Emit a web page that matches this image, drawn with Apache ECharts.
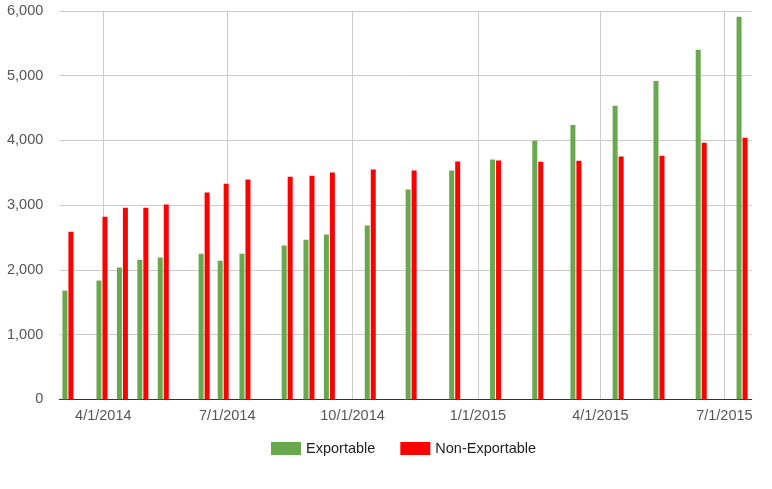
<!DOCTYPE html>
<html>
<head>
<meta charset="utf-8">
<script src="https://cdn.jsdelivr.net/npm/echarts@6/dist/echarts.min.js"></script>
<style>
html,body{margin:0;padding:0;background:#fff;}
#chart{width:772px;height:489px;}
</style>
</head>
<body>
<div id="chart"></div>
<script>
const dates = ['2014-03-06','2014-03-31','2014-04-15','2014-04-30','2014-05-15','2014-06-14','2014-06-28','2014-07-14','2014-08-14','2014-08-30','2014-09-14','2014-10-14','2014-11-13','2014-12-15','2015-01-14','2015-02-14','2015-03-14','2015-04-14','2015-05-14','2015-06-14','2015-07-14'];
const exportable = [1680, 1835, 2035, 2155, 2190, 2250, 2140, 2250, 2375, 2465, 2545, 2685, 3240, 3535, 3705, 3995, 4240, 4535, 4920, 5400, 5910];
const nonExportable = [2590, 2820, 2960, 2960, 3010, 3195, 3330, 3395, 3440, 3455, 3505, 3550, 3535, 3675, 3690, 3670, 3685, 3750, 3765, 3965, 4040];
const tickDates = ['2014-04-01','2014-07-01','2014-10-01','2015-01-01','2015-04-01','2015-07-01'];
const axisStart = '2014-02-27T16:00:00Z';
const axisEnd = '2015-07-21T02:00:00Z';
const yTicks = [0, 1000, 2000, 3000, 4000, 5000, 6000];

const ts = d => Date.parse(d.length === 10 ? d + 'T00:00:00Z' : d);
const tickTs = tickDates.map(ts);
const fmtDate = v => { const d = new Date(v); return (d.getUTCMonth() + 1) + '/' + d.getUTCDate() + '/' + d.getUTCFullYear(); };
const fmtNum = v => v.toLocaleString('en-US');

const font = '"Liberation Sans", Arial, sans-serif';
const chart = echarts.init(document.getElementById('chart'), null, {renderer: 'canvas'});
chart.setOption({
  animation: false,
  backgroundColor: '#ffffff',
  textStyle: {fontFamily: font},
  grid: {left: 59.3, right: 20.3, top: 11, bottom: 89.7, containLabel: false},
  legend: {
    left: 271, top: 441, padding: 0,
    itemWidth: 30, itemHeight: 13, itemGap: 25,
    icon: 'rect',
    textStyle: {fontFamily: font, fontSize: 14.5, color: '#222'},
    data: ['Exportable', 'Non-Exportable']
  },
  xAxis: {
    type: 'value',
    min: ts(axisStart), max: ts(axisEnd),
    axisLine: {show: true, lineStyle: {color: '#333', width: 1}},
    axisTick: {show: false, customValues: tickTs},
    axisLabel: {customValues: tickTs, formatter: v => fmtDate(v), color: '#555', fontSize: 14.5, fontFamily: font, margin: 9},
    splitLine: {show: false}
  },
  yAxis: {
    type: 'value',
    min: yTicks[0], max: yTicks[yTicks.length - 1], interval: 1000,
    axisLine: {show: false},
    axisTick: {show: false},
    axisLabel: {formatter: v => fmtNum(v), color: '#555', fontSize: 14.5, fontFamily: font, margin: 16},
    splitLine: {show: true, lineStyle: {color: '#ccc', width: 1}}
  },
  series: [
    {
      name: 'quarterGrid', type: 'line',
      data: [], silent: true, z: 0,
      markLine: {
        z: 0,
        silent: true, symbol: 'none', label: {show: false},
        lineStyle: {color: '#ccc', width: 1, type: 'solid'},
        data: tickTs.map(t => ({xAxis: t}))
      }
    },
    {
      name: 'Exportable', type: 'bar',
      barWidth: 5, barGap: '20%',
      itemStyle: {color: '#6aa84f'},
      data: dates.map((d, i) => [ts(d), exportable[i]]),
      z: 3
    },
    {
      name: 'Non-Exportable', type: 'bar',
      barWidth: 5, barGap: '20%',
      itemStyle: {color: '#ff0000'},
      data: dates.map((d, i) => [ts(d), nonExportable[i]]),
      z: 3
    }
  ]
});
</script>
</body>
</html>
